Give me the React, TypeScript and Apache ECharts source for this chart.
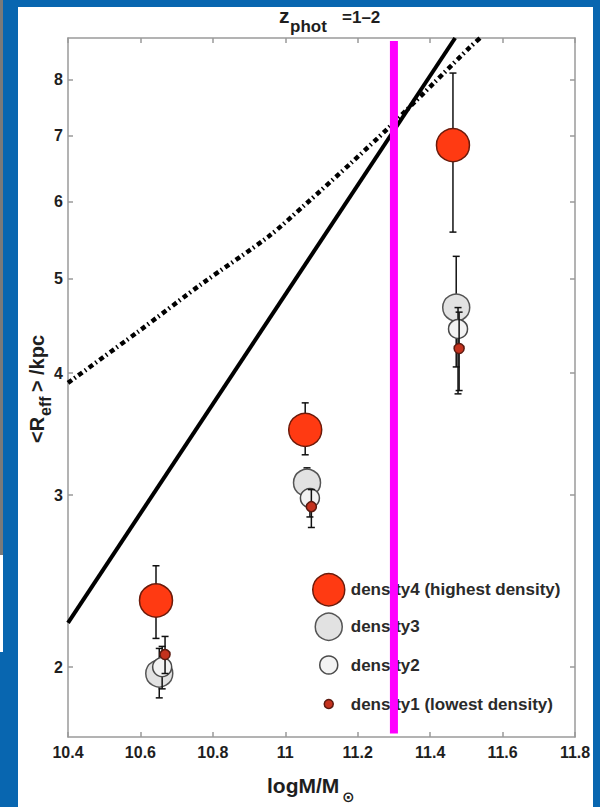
import React, { useEffect, useRef } from "react";
import * as echarts from "echarts";

// ---- data ----
const xTicks = [10.4, 10.6, 10.8, 11, 11.2, 11.4, 11.6, 11.8];
const yTicks = [2, 3, 4, 5, 6, 7, 8];

const seriesNames = [
  "density4 (highest density)",
  "density3",
  "density2",
  "density1 (lowest density)",
];

const d4X = [10.643, 11.055, 11.463];
const d4Y = [2.34, 3.5, 6.85];
const d4Lo = [2.14, 3.3, 5.58];
const d4Hi = [2.54, 3.73, 8.12];

const d3X = [10.652, 11.06, 11.472];
const d3Y = [1.97, 3.09, 4.67];
const d3Lo = [1.86, 2.97, 4.06];
const d3Hi = [2.09, 3.2, 5.27];

const d2X = [10.66, 11.068, 11.477];
const d2Y = [2.0, 2.98, 4.44];
const d2Lo = [1.9, 2.85, 3.81];
const d2Hi = [2.1, 3.04, 4.67];

const d1X = [10.668, 11.072, 11.48];
const d1Y = [2.06, 2.92, 4.24];
const d1Lo = [1.97, 2.78, 3.84];
const d1Hi = [2.15, 3.04, 4.62];

const solidX = [10.4, 11.469];
const solidY = [2.22, 8.82];

const dashX = [10.4, 10.593, 10.773, 10.953, 11.054, 11.184, 11.284, 11.41, 11.51, 11.538];
const dashY = [3.91, 4.41, 4.95, 5.52, 5.95, 6.58, 7.13, 7.93, 8.63, 8.82];

const cutX = [11.3, 11.3];
const cutY = [1.71, 8.76];

const xMin = 10.4;
const xMax = 11.8;
const yMin = 1.696;
const yMax = 8.82;

// ---- styles ----
const FONT = '"Liberation Sans", Arial, sans-serif';
const AXIS_GRAY = "#9a9a9a";
const TEXT = "#1e1e1e";

const markerStyles = [
  { size: 33, color: "#ff3a12", border: "#6b1a0a", legendH: 32 },
  { size: 27, color: "#e2e2e2", border: "#555555", legendH: 27 },
  { size: 19, color: "#f3f3f3", border: "#4a4a4a", legendH: 18 },
  { size: 10, color: "#c4321e", border: "#5a1a10", legendH: 9 },
];
const legendCenters = [589, 626, 665, 704];
const legendIconCenterX = 328;

const pairs = (xs: number[], ys: number[]) => xs.map((x, i) => [x, ys[i]]);
const triples = (xs: number[], lo: number[], hi: number[]) => xs.map((x, i) => [x, lo[i], hi[i]]);

function errRender(params: any, api: any) {
  const x = api.value(0);
  const lo = api.value(1);
  const hi = api.value(2);
  const a = api.coord([x, lo]);
  const b = api.coord([x, hi]);
  const hw = 3.5;
  const st = { stroke: "#111", lineWidth: 1.5 };
  return {
    type: "group",
    children: [
      { type: "line", shape: { x1: a[0], y1: a[1], x2: b[0], y2: b[1] }, style: st },
      { type: "line", shape: { x1: a[0] - hw, y1: a[1], x2: a[0] + hw, y2: a[1] }, style: st },
      { type: "line", shape: { x1: b[0] - hw, y1: b[1], x2: b[0] + hw, y2: b[1] }, style: st },
    ],
  };
}

function buildOption() {
  const groups = [
    { x: d4X, y: d4Y, lo: d4Lo, hi: d4Hi },
    { x: d3X, y: d3Y, lo: d3Lo, hi: d3Hi },
    { x: d2X, y: d2Y, lo: d2Lo, hi: d2Hi },
    { x: d1X, y: d1Y, lo: d1Lo, hi: d1Hi },
  ];

  const series: any[] = [
    {
      type: "line",
      name: "relation-solid",
      data: pairs(solidX, solidY),
      showSymbol: false,
      symbol: "none",
      lineStyle: { color: "#000", width: 4 },
      z: 2,
      silent: true,
    },
    {
      type: "line",
      name: "relation-dashdot",
      data: pairs(dashX, dashY),
      showSymbol: false,
      symbol: "none",
      smooth: 0.3,
      lineStyle: { color: "#000", width: 4.5, type: [5, 3, 1.5, 3.5] },
      z: 2,
      silent: true,
    },
  ];

  groups.forEach((g, i) => {
    const ms = markerStyles[i];
    series.push({
      type: "custom",
      name: "err" + i,
      renderItem: errRender,
      data: triples(g.x, g.lo, g.hi),
      encode: { x: 0, y: [1, 2] },
      z: 3 + i * 2,
      silent: true,
    });
    series.push({
      type: "scatter",
      name: seriesNames[i],
      data: pairs(g.x, g.y),
      symbol: "circle",
      symbolSize: ms.size,
      itemStyle: { color: ms.color, borderColor: ms.border, borderWidth: 1.5, opacity: 1 },
      z: 4 + i * 2,
      silent: true,
    });
  });

  series.push({
    type: "line",
    name: "cut",
    data: pairs(cutX, cutY),
    showSymbol: false,
    symbol: "none",
    lineStyle: { color: "#ff00ff", width: 8, cap: "butt" },
    z: 20,
    silent: true,
  });

  const legends = seriesNames.map((name, i) => {
    const ms = markerStyles[i];
    const H = Math.max(ms.legendH, 20);
    return {
      data: [
        {
          name,
          icon: "circle",
          itemStyle: { color: ms.color, borderColor: ms.border, borderWidth: 1.5 },
        },
      ],
      left: legendIconCenterX - ms.legendH / 2,
      top: legendCenters[i] - H / 2,
      orient: "vertical",
      itemWidth: 34,
      itemHeight: ms.legendH,
      padding: 0,
      selectedMode: false,
      textStyle: { fontFamily: FONT, fontWeight: "bold", fontSize: 17, color: "#2a2a2a", lineHeight: 20 },
    };
  });

  const tickStyle = { lineStyle: { color: AXIS_GRAY, width: 1.5 } };
  const labelStyle = { fontFamily: FONT, fontWeight: "bold", fontSize: 16, color: TEXT };

  return {
    animation: false,
    backgroundColor: "#0866b0",
    grid: { left: 68, top: 38, right: 25, bottom: 70, show: false },
    xAxis: [
      {
        type: "value",
        min: xMin,
        max: xMax,
        interval: 0.2,
        position: "bottom",
        axisLine: { show: true, onZero: false, ...tickStyle },
        axisTick: { show: true, inside: true, length: 5, ...tickStyle },
        axisLabel: { ...labelStyle, margin: 7, formatter: (v: number) => String(Math.round(v * 10) / 10) },
        splitLine: { show: false },
      },
      {
        type: "value",
        min: xMin,
        max: xMax,
        interval: 0.2,
        position: "top",
        axisLine: { show: true, onZero: false, ...tickStyle },
        axisTick: { show: true, inside: true, length: 5, ...tickStyle },
        axisLabel: { show: false },
        splitLine: { show: false },
      },
    ],
    yAxis: [
      {
        type: "log",
        logBase: 10,
        min: yMin,
        max: yMax,
        position: "left",
        axisLine: { show: true, onZero: false, ...tickStyle },
        axisTick: { show: true, inside: true, length: 5, customValues: yTicks, ...tickStyle },
        axisLabel: { ...labelStyle, margin: 5, customValues: yTicks, formatter: (v: number) => String(Math.round(v)) },
        splitLine: { show: false },
        minorTick: { show: false },
      },
      {
        type: "log",
        logBase: 10,
        min: yMin,
        max: yMax,
        position: "right",
        axisLine: { show: true, onZero: false, ...tickStyle },
        axisTick: { show: true, inside: true, length: 5, customValues: yTicks, ...tickStyle },
        axisLabel: { show: false, customValues: yTicks },
        splitLine: { show: false },
        minorTick: { show: false },
      },
    ],
    legend: legends,
    series,
    graphic: [
      { type: "rect", z: -10, shape: { x: 18, y: 7, width: 575, height: 800 }, style: { fill: "#ffffff" } },
      { type: "rect", z: -10, shape: { x: 0, y: 0, width: 3, height: 555 }, style: { fill: "#7a7a7a" } },
      { type: "rect", z: -10, shape: { x: 0, y: 555, width: 3, height: 97 }, style: { fill: "#ffffff" } },
      // title z_phot=1-2
      {
        type: "text",
        z: 30,
        x: 279,
        y: 15.5,
        style: { text: "z", font: `bold 21px ${FONT}`, fill: TEXT, align: "left", verticalAlign: "middle" },
      },
      {
        type: "text",
        z: 30,
        x: 290,
        y: 26,
        style: { text: "phot", font: `bold 17px ${FONT}`, fill: TEXT, align: "left", verticalAlign: "middle" },
      },
      {
        type: "text",
        z: 30,
        x: 342,
        y: 17,
        style: { text: "=1–2", font: `bold 17px ${FONT}`, fill: TEXT, align: "left", verticalAlign: "middle" },
      },
      // x axis name logM/M_sun
      {
        type: "text",
        z: 30,
        x: 267,
        y: 785.5,
        style: { text: "logM/M", font: `bold 21px ${FONT}`, fill: TEXT, align: "left", verticalAlign: "middle" },
      },
      {
        type: "text",
        z: 30,
        x: 342,
        y: 797,
        style: { text: "⊙", font: `bold 15px "DejaVu Sans", sans-serif`, fill: TEXT, align: "left", verticalAlign: "middle" },
      },
      // y axis name <R_eff> /kpc (rotated)
      {
        type: "group",
        x: 37,
        y: 443,
        rotation: Math.PI / 2,
        z: 30,
        children: [
          { type: "text", x: 0, y: 0, style: { text: "<R", font: `bold 20px ${FONT}`, fill: TEXT, align: "left", verticalAlign: "middle" } },
          { type: "text", x: 27, y: 8, style: { text: "eff", font: `bold 16px ${FONT}`, fill: TEXT, align: "left", verticalAlign: "middle" } },
          { type: "text", x: 51, y: 0, style: { text: ">", font: `bold 20px ${FONT}`, fill: TEXT, align: "left", verticalAlign: "middle" } },
          { type: "text", x: 68, y: 0, style: { text: "/kpc", font: `bold 20px ${FONT}`, fill: TEXT, align: "left", verticalAlign: "middle" } },
        ],
      },
    ],
  };
}

export default function App() {
  const ref = useRef<HTMLDivElement>(null);
  useEffect(() => {
    if (!ref.current) return;
    const chart = echarts.init(ref.current, null, { renderer: "svg" });
    chart.setOption(buildOption() as any);
    return () => {
      chart.dispose();
    };
  }, []);
  return (
    <div
      ref={ref}
      style={{ position: "fixed", left: 0, top: 0, width: 600, height: 807 }}
    />
  );
}
